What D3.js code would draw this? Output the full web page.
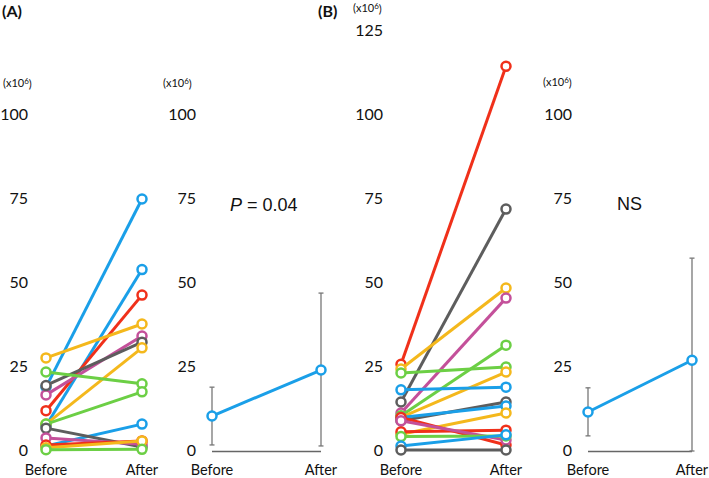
<!DOCTYPE html>
<html>
<head>
<meta charset="UTF-8">
<title>Before / After</title>
<script src="https://cdn.jsdelivr.net/npm/d3@7"></script>
<style type="text/css">
body, html {
    margin: 0;
    background: #fff;
}
.tick-label {
    font: 16px Lato, "Open Sans", sans-serif;
    fill: #111;
}
.grp-label {
    font: 14.5px Lato, "Open Sans", sans-serif;
    fill: #111;
}
.unit {
    font: 11px Lato, "Open Sans", sans-serif;
    fill: #111;
}
.panel-tag {
    font: bold 16px Lato, "Open Sans", sans-serif;
    fill: #111;
}
.stat {
    font: 18px "Liberation Sans", Arial, sans-serif;
    fill: #111;
}
</style>
</head>
<body>

<div class="chart"></div>

<script type="text/javascript">
var groups = ["Before", "After"];

// panel A, individual subjects
var aColors = ["#1a9fe8", "#1a9fe8", "#f0301a", "#f4b81c", "#c4509a", "#5d5d5d", "#f4b81c",
               "#6ccf45", "#6ccf45", "#1a9fe8", "#5d5d5d", "#c4509a", "#f0301a", "#f4b81c", "#6ccf45"];
var aBefore = [19, 7.5, 12, 27.7, 16.7, 19.5, 8, 23.5, 8, 1.5, 6.8, 3.9, 1.8, 1, 0.4];
var aAfter  = [75, 54, 46.4, 37.8, 34.2, 32.4, 30.7, 20, 17.6, 8, 1.2, 2, 3, 3, 0.5];

// panel B, individual subjects
var bColors = ["#f0301a", "#5d5d5d", "#f4b81c", "#c4509a", "#6ccf45", "#6ccf45", "#f4b81c", "#1a9fe8", "#5d5d5d",
               "#1a9fe8", "#f4b81c", "#f0301a", "#f0301a", "#c4509a", "#6ccf45", "#1a9fe8", "#5d5d5d"];
var bBefore = [25.8, 14.6, 24.4, 11.3, 10.5, 23.2, 10, 18.2, 9, 10, 5, 5.7, 10, 9, 4.3, 1.5, 0.3];
var bAfter  = [114.5, 72, 48.5, 45.5, 31.5, 25, 23.5, 19, 14.6, 13.4, 11.3, 6.2, 1.8, 3.3, 4.5, 4.8, 0.3];

// group means with error bars
var aMean = [10.4, 24.1];
var aLow  = [1.8, 1.5];
var aHigh = [19, 47];
var bMean = [11.6, 27];
var bLow  = [4.5, 0];
var bHigh = [18.8, 57.4];

var ticksA  = [0, 25, 50, 75, 100];
var ticksB  = [0, 25, 50, 75, 100, 125];
var ticksBR = [0, 25, 50, 75, 100];

var W = 709, H = 478;

var y = d3.scaleLinear().domain([0, 125]).range([451, 31]);

var svg = d3.select(".chart")
    .append("svg")
    .attr("width", W)
    .attr("height", H);

function yTicks(ticks, xRight) {
    svg.append("g")
        .selectAll("text")
        .data(ticks)
        .enter()
        .append("text")
        .attr("class", "tick-label")
        .attr("x", xRight)
        .attr("y", function (d) { return y(d); })
        .attr("dy", "0.33em")
        .attr("text-anchor", "end")
        .text(function (d) { return d; });
}

function groupLabels(x) {
    svg.append("g")
        .selectAll("text")
        .data(groups)
        .enter()
        .append("text")
        .attr("class", "grp-label")
        .attr("x", function (d) { return x(d); })
        .attr("y", 474.5)
        .attr("text-anchor", "middle")
        .text(function (d) { return d; });
}

function unitLabel(xPos, yPos) {
    var t = svg.append("text")
        .attr("class", "unit")
        .attr("x", xPos)
        .attr("y", yPos);
    t.append("tspan").text("(x10");
    t.append("tspan").attr("dy", "-0.35em").attr("font-size", "8px").text("6");
    t.append("tspan").attr("dy", "0.35em").text(")");
}

function subjects(x, colors, before, after) {
    var g = svg.append("g");
    colors.forEach(function (c, i) {
        var pts = [before[i], after[i]];
        var s = g.append("g");
        s.append("line")
            .attr("x1", x(groups[0]))
            .attr("y1", y(pts[0]))
            .attr("x2", x(groups[1]))
            .attr("y2", y(pts[1]))
            .attr("stroke", c)
            .attr("stroke-width", 3);
        s.selectAll("circle")
            .data(pts)
            .enter()
            .append("circle")
            .attr("cx", function (d, j) { return x(groups[j]); })
            .attr("cy", function (d) { return y(d); })
            .attr("r", 4.5)
            .attr("fill", "#fff")
            .attr("stroke", c)
            .attr("stroke-width", 2.5);
    });
}

function meanPanel(x, mean, low, high) {
    var g = svg.append("g");
    g.append("line")
        .attr("x1", x(groups[0]))
        .attr("x2", x(groups[1]))
        .attr("y1", y(0) + 0.5)
        .attr("y2", y(0) + 0.5)
        .attr("stroke", "#666")
        .attr("stroke-width", 1.3);

    var eb = g.selectAll(".err")
        .data(groups)
        .enter()
        .append("g")
        .attr("class", "err");
    eb.append("line")
        .attr("x1", function (d) { return x(d); })
        .attr("x2", function (d) { return x(d); })
        .attr("y1", function (d, i) { return y(low[i]); })
        .attr("y2", function (d, i) { return y(high[i]); })
        .attr("stroke", "#777")
        .attr("stroke-width", 1.3);
    [low, high].forEach(function (arr) {
        eb.append("line")
            .attr("x1", function (d) { return x(d) - 2.5; })
            .attr("x2", function (d) { return x(d) + 2.5; })
            .attr("y1", function (d, i) { return y(arr[i]); })
            .attr("y2", function (d, i) { return y(arr[i]); })
            .attr("stroke", "#777")
            .attr("stroke-width", 1.3);
    });

    g.append("path")
        .datum(mean)
        .attr("fill", "none")
        .attr("stroke", "#1a9fe8")
        .attr("stroke-width", 3)
        .attr("d", d3.line()
            .x(function (d, i) { return x(groups[i]); })
            .y(function (d) { return y(d); }));
    g.selectAll("circle")
        .data(mean)
        .enter()
        .append("circle")
        .attr("cx", function (d, i) { return x(groups[i]); })
        .attr("cy", function (d) { return y(d); })
        .attr("r", 4.5)
        .attr("fill", "#fff")
        .attr("stroke", "#1a9fe8")
        .attr("stroke-width", 2.5);
}

// x positions for the four panels
var xA  = d3.scalePoint().domain(groups).range([46, 142]);
var xAR = d3.scalePoint().domain(groups).range([212, 321]);
var xB  = d3.scalePoint().domain(groups).range([401, 506]);
var xBR = d3.scalePoint().domain(groups).range([588, 692]);

// panel tags
svg.append("text").attr("class", "panel-tag").attr("x", 2).attr("y", 17).text("(A)");
svg.append("text").attr("class", "panel-tag").attr("x", 318).attr("y", 17).text("(B)");

// A left
unitLabel(3, 87);
yTicks(ticksA, 28);
subjects(xA, aColors, aBefore, aAfter);
groupLabels(xA);

// A right
unitLabel(163, 87);
yTicks(ticksA, 196);
meanPanel(xAR, aMean, aLow, aHigh);
groupLabels(xAR);
var pTxt = svg.append("text").attr("class", "stat").attr("x", 230).attr("y", 211);
pTxt.append("tspan").attr("font-style", "italic").text("P");
pTxt.append("tspan").text(" = 0.04");

// B left
unitLabel(353, 12);
yTicks(ticksB, 383);
subjects(xB, bColors, bBefore, bAfter);
groupLabels(xB);

// B right
unitLabel(543, 86);
yTicks(ticksBR, 572);
meanPanel(xBR, bMean, bLow, bHigh);
groupLabels(xBR);
svg.append("text").attr("class", "stat").attr("x", 617).attr("y", 210).text("NS");
</script>
</body>
</html>
